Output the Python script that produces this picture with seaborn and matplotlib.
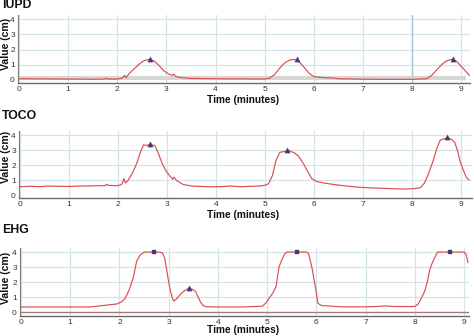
import matplotlib
matplotlib.use("Agg")
import matplotlib.pyplot as plt
import seaborn as sns

# ---------------- data ----------------
iupd_t = [0, 0.5, 1.0, 1.5, 1.75, 1.78, 1.8, 2.0, 2.1, 2.15, 2.18, 2.25, 2.35, 2.45, 2.55, 2.65,
          2.75, 2.85, 2.95, 3.05, 3.12, 3.15, 3.18, 3.25, 3.35, 3.5, 4.0, 4.5, 5.0, 5.1, 5.2, 5.3,
          5.4, 5.5, 5.6, 5.7, 5.8, 5.9, 6.0, 6.2, 6.4, 6.5, 7.0, 7.5, 8.0, 8.3, 8.4, 8.5, 8.6,
          8.7, 8.8, 8.9, 9.0, 9.1, 9.17]
iupd_v = [0.08, 0.07, 0.06, 0.05, 0.06, 0.12, 0.06, 0.06, 0.12, 0.3, 0.15, 0.45, 0.75, 1.05, 1.28, 1.35,
          1.25, 0.95, 0.6, 0.38, 0.3, 0.38, 0.25, 0.18, 0.14, 0.1, 0.08, 0.07, 0.06, 0.12, 0.35, 0.75,
          1.1, 1.3, 1.35, 1.2, 0.85, 0.45, 0.22, 0.15, 0.13, 0.08, 0.05, 0.04, 0.04, 0.08, 0.3, 0.65, 1.0,
          1.25, 1.35, 1.25, 0.9, 0.55, 0.3]
iupd_mark_t = [2.67, 5.66, 8.84]
iupd_mark_v = [1.35, 1.35, 1.35]

toco_t = [0, 0.2, 0.4, 0.6, 0.8, 1.0, 1.2, 1.4, 1.6, 1.74, 1.76, 1.8, 1.9, 2.0, 2.08, 2.12, 2.15,
          2.2, 2.3, 2.38, 2.45, 2.52, 2.58, 2.65, 2.75, 2.82, 2.9, 2.98, 3.05, 3.12, 3.14, 3.2,
          3.33, 3.5, 3.7, 3.9, 4.1, 4.3, 4.5, 4.7, 4.9, 5.0, 5.07, 5.15, 5.22, 5.3, 5.4, 5.5,
          5.6, 5.68, 5.78, 5.88, 5.95, 6.05, 6.2, 6.4, 6.6, 6.8, 7.0, 7.2, 7.4, 7.6, 7.8, 8.0,
          8.1, 8.17, 8.25, 8.33, 8.43, 8.5, 8.57, 8.65, 8.72, 8.8, 8.87, 8.93, 8.98, 9.05, 9.1, 9.16]
toco_v = [0.55, 0.58, 0.56, 0.6, 0.58, 0.57, 0.6, 0.6, 0.62, 0.62, 0.72, 0.65, 0.63, 0.62, 0.72, 1.1, 0.8,
          0.95, 1.5, 2.1, 2.8, 3.35, 3.3, 3.38, 3.3, 2.8, 2.1, 1.6, 1.3, 1.05, 1.2, 0.95,
          0.7, 0.6, 0.57, 0.55, 0.56, 0.6, 0.55, 0.58, 0.6, 0.65, 0.75, 1.3, 2.3, 2.85, 2.9, 2.95,
          2.8, 2.6, 2.1, 1.5, 1.1, 0.9, 0.8, 0.7, 0.62, 0.55, 0.5, 0.47, 0.45, 0.42, 0.4, 0.42,
          0.45, 0.5, 0.8, 1.4, 2.3, 3.1, 3.65, 3.75, 3.8, 3.72, 3.5, 2.9, 2.2, 1.6, 1.2, 1.0]
toco_mark_t = [2.65, 5.45, 8.72]
toco_mark_v = [3.38, 3.0, 3.85]

ehg_t = [0, 1.0, 1.4, 1.6, 1.8, 1.95, 2.05, 2.12, 2.2, 2.28, 2.35, 2.42, 2.5, 2.6, 2.7, 2.8, 2.87,
         2.92, 2.96, 3.0, 3.03, 3.07, 3.1, 3.15, 3.2, 3.27, 3.33, 3.42, 3.5, 3.55, 3.6, 3.65, 3.7,
         3.75, 4.0, 4.5, 4.9, 4.97, 5.04, 5.12, 5.18, 5.24, 5.3, 5.36, 5.4, 5.6, 5.8, 5.84, 5.88,
         5.92, 5.95, 5.99, 6.03, 6.1, 6.5, 7.0, 7.2, 7.4, 7.6, 8.0, 8.07, 8.13, 8.2, 8.26, 8.3,
         8.35, 8.4, 8.46, 8.6, 8.8, 9.0, 9.04, 9.08]
ehg_v = [0.35, 0.35, 0.35, 0.42, 0.5, 0.55, 0.7, 0.95, 1.5, 2.3, 3.4, 3.8, 4.0, 4.0, 4.0, 4.0, 3.95,
         3.6, 2.8, 2.0, 1.5, 1.0, 0.75, 0.85, 1.05, 1.3, 1.45, 1.6, 1.5, 1.35, 1.0, 0.65, 0.45,
         0.37, 0.35, 0.35, 0.4, 0.6, 0.93, 1.3, 1.7, 3.0, 3.5, 3.9, 4.0, 4.0, 4.0, 3.9, 3.4,
         2.8, 2.2, 1.5, 0.6, 0.45, 0.36, 0.36, 0.38, 0.42, 0.38, 0.38, 0.55, 0.93, 1.4, 2.1, 2.8,
         3.25, 3.6, 4.0, 4.0, 4.0, 4.0, 3.85, 3.3]
ehg_sq_t = [2.7, 5.6, 8.72]
ehg_sq_v = [4.0, 4.0, 4.0]
ehg_tri_t = [3.42]
ehg_tri_v = [1.6]

x_ticks = [0, 1, 2, 3, 4, 5, 6, 7, 8, 9]
y_ticks = [0, 1, 2, 3, 4]
titles = ["IUPD", "TOCO", "EHG"]

# ---------------- styling ----------------
sns.set_style("white")
plt.rcParams['font.family'] = ['Liberation Sans', 'DejaVu Sans']

W, H = 474, 336
fig = plt.figure(figsize=(W / 100, H / 100), dpi=100)

RED = "#db4d50"
MARK = "#3d3b78"
GRID = "#d3e4e8"
SPINE = "#7a7a7a"

# (left_px, top_px, right_px, bottom_px, xlim, ylim)
layout = [
    (18, 15, 470, 83, (-0.02, 9.18), (-0.2, 4.27)),
    (19, 131, 472, 198, (-0.02, 9.22), (-0.2, 4.27)),
    (20, 248, 469, 316, (-0.02, 9.1), (-0.25, 4.27)),
]

axes = []
for (l, t, r, b, xl, yl) in layout:
    ax = fig.add_axes([l / W, 1 - b / H, (r - l) / W, (b - t) / H])
    axes.append(ax)

# IUPD
ax = axes[0]
ax.axvline(8, color="#a3c7d2", lw=1.0, zorder=0.5)
ax.plot([0, 9.1], [0.1, 0.1], color="#d6d6d6", lw=3.0, zorder=1, solid_capstyle="butt")
sns.lineplot(x=iupd_t, y=iupd_v, ax=ax, color=RED, lw=0.85, zorder=3)
sns.scatterplot(x=iupd_mark_t, y=iupd_mark_v, ax=ax, marker="^", s=14, color=MARK, edgecolor=MARK, zorder=4)

# TOCO
ax = axes[1]
sns.lineplot(x=toco_t, y=toco_v, ax=ax, color=RED, lw=0.85, zorder=3)
sns.scatterplot(x=toco_mark_t, y=toco_mark_v, ax=ax, marker="^", s=14, color=MARK, edgecolor=MARK, zorder=4)

# EHG
ax = axes[2]
ax.plot([0, 9.1], [0.02, 0.02], color="#a67a7c", lw=1.0, zorder=1)
sns.lineplot(x=ehg_t, y=ehg_v, ax=ax, color=RED, lw=0.85, zorder=3)
sns.scatterplot(x=ehg_sq_t, y=ehg_sq_v, ax=ax, marker="s", s=10, color=MARK, edgecolor=MARK, zorder=4)
sns.scatterplot(x=ehg_tri_t, y=ehg_tri_v, ax=ax, marker="^", s=14, color=MARK, edgecolor=MARK, zorder=4)

for ax, (l, t, r, b, xl, yl) in zip(axes, layout):
    ax.set_xlim(*xl)
    ax.set_ylim(*yl)
    ax.set_xticks(x_ticks)
    ax.set_yticks(y_ticks)
    for v in x_ticks:
        ax.axvline(v, color=GRID, lw=0.9, zorder=0)
    for v in y_ticks[1:]:
        ax.axhline(v, color=GRID, lw=0.9, zorder=0)
    for s in ["top", "right"]:
        ax.spines[s].set_visible(False)
    ax.spines["left"].set_color(SPINE)
    ax.spines["bottom"].set_color("#6a6a6a")
    ax.spines["left"].set_linewidth(0.8)
    ax.spines["bottom"].set_linewidth(1.0)
    ax.tick_params(axis="both", labelsize=6, labelcolor="#333333", color=SPINE,
                   length=1.5, width=0.6, pad=0.8)
    ax.set_xlabel("")
    ax.set_ylabel("")

# titles and labels as figure text
title_y = [5, 116, 230]
ylab_y = [44, 157, 278]
time_y = [100, 215, 330]
for i in range(3):
    fig.text(2 / W, 1 - title_y[i] / H, titles[i], fontsize=8.8, fontweight="bold",
             ha="left", va="center", color="#111111")
    fig.text(6 / W, 1 - ylab_y[i] / H, "Value (cm)", fontsize=7.6, fontweight="bold",
             rotation=90, ha="center", va="center", color="#111111")
    fig.text(243 / W, 1 - time_y[i] / H, "Time (minutes)", fontsize=7.3, fontweight="bold",
             ha="center", va="center", color="#111111")

fig.savefig("out.png", dpi=100)
